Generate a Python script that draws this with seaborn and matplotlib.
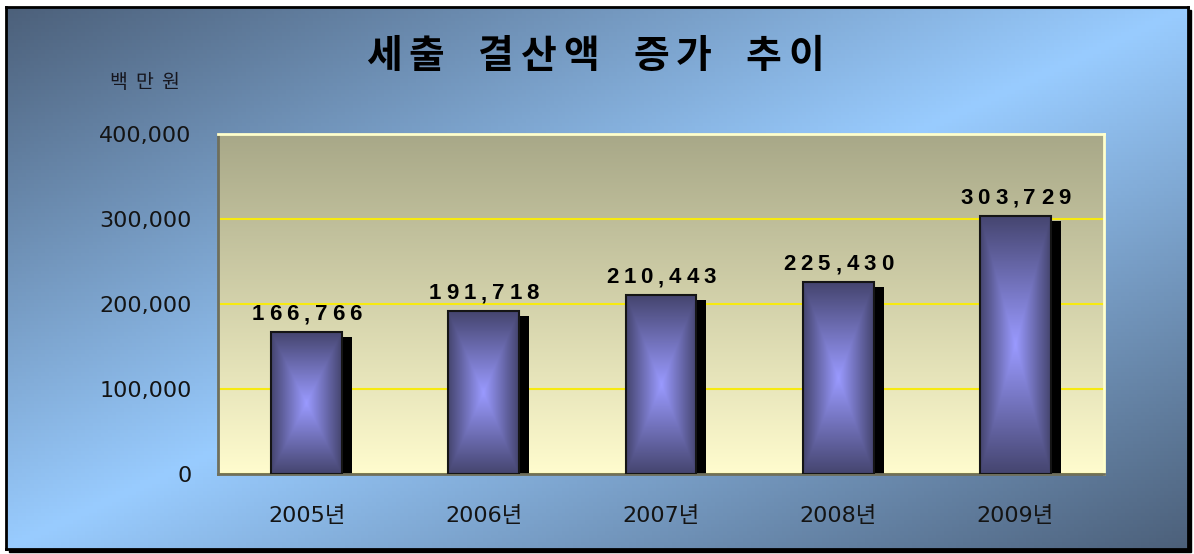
import numpy as np
import pandas as pd
import matplotlib
matplotlib.use("Agg")
import matplotlib.pyplot as plt
import seaborn as sns
from matplotlib import font_manager
from matplotlib.font_manager import FontProperties
from matplotlib.ft2font import FT2Font
from matplotlib.patches import Rectangle
from matplotlib.transforms import offset_copy
from matplotlib.colors import LinearSegmentedColormap

# -----------------------------
# DATA
# -----------------------------
years = ["2005년", "2006년", "2007년", "2008년", "2009년"]
amounts = [166766, 191718, 210443, 225430, 303729]
y_ticks = [0, 100000, 200000, 300000, 400000]
title_text = "세출 결산액 증가 추이"
unit_text = "백만원"

df = pd.DataFrame({"year": years, "amount": amounts})

W, H, DPI = 1194, 554, 100


def advance_pt(char, prop):
    # horizontal advance of one glyph, in points
    font = FT2Font(font_manager.findfont(prop))
    font.set_size(prop.get_size_in_points(), 72)
    g = font.load_char(ord(char))
    return g.linearHoriAdvance / 65536


def spaced_text(ax, xy, s, prop, track_pt, xycoords="data", dy_pt=0,
                space_pt=0, **kw):
    # draws text with extra letter spacing, centred on xy
    advs = [advance_pt(c, prop) + (space_pt if c == " " else 0) for c in s]
    total = sum(advs) + track_pt * (len(s) - 1)
    pos = -total / 2
    for c, a in zip(s, advs):
        if c != " ":
            ax.annotate(c, xy, xycoords=xycoords, xytext=(pos + a / 2, dy_pt),
                        textcoords="offset points", ha="center", va="baseline",
                        fontproperties=prop, annotation_clip=False, **kw)
        pos += a + track_pt


sns.set_theme(style="white")
plt.rcParams["font.family"] = ["DejaVu Sans", "Noto Sans CJK KR"]

fig = plt.figure(figsize=(W / DPI, H / DPI), dpi=DPI, facecolor="white")

# -----------------------------
# BACKGROUND FRAME (diagonal gradient)
# -----------------------------
fx0, fx1 = 6 / W, 1188 / W
fy0, fy1 = 1 - 549 / H, 1 - 7 / H
fig.patches.append(Rectangle((fx0 + 3 / W, fy0 - 3 / H), fx1 - fx0, fy1 - fy0,
                             transform=fig.transFigure, facecolor="black",
                             edgecolor="black", zorder=-3))
bg = fig.add_axes([fx0, fy0, fx1 - fx0, fy1 - fy0], zorder=-2)
gx, gy = np.meshgrid(np.linspace(0, 1, 300), np.linspace(0, 1, 150))
t = (gx + gy) / 2
f = 1 - np.abs(2 * t - 1)
dark = np.array([76, 96, 122]) / 255
light = np.array([153, 204, 255]) / 255
bg_img = dark + (light - dark) * f[..., None]
bg.imshow(bg_img, extent=[0, 1, 0, 1], aspect="auto", origin="upper")
bg.set_xlim(0, 1)
bg.set_ylim(0, 1)
bg.set_xticks([])
bg.set_yticks([])
for sp in bg.spines.values():
    sp.set_color("black")
    sp.set_linewidth(2)

# -----------------------------
# PLOT AREA
# -----------------------------
ax = fig.add_axes([218 / W, 1 - 474 / H, 886 / W, 340 / H])
ax.patch.set_alpha(0)

pa = np.linspace(0, 1, 200)[:, None] * np.ones((1, 2))
top_c = np.array([168, 168, 136]) / 255
bot_c = np.array([255, 252, 206]) / 255
pa_img = top_c + (bot_c - top_c) * pa[..., None]
ax.imshow(pa_img, extent=[0, 1, 0, 1], transform=ax.transAxes,
          aspect="auto", origin="upper", zorder=0)

sns.barplot(data=df, x="year", y="amount", width=0.4, ax=ax,
            color="#7070c0", edgecolor="#151515", linewidth=1.5,
            saturation=1, zorder=3)

# bar gradient (rectangle gradient from the centre)
u, v = np.meshgrid(np.linspace(-1, 1, 120), np.linspace(-1, 1, 240))
bar_grad = 1 - np.maximum(np.abs(u), np.abs(v))
bar_cmap = LinearSegmentedColormap.from_list("bar", ["#45456f", "#9a9aff"])
shadow_tr = offset_copy(ax.transData, fig=fig, x=10, y=-5, units="dots")

for p in list(ax.patches):
    x, w, h = p.get_x(), p.get_width(), p.get_height()
    ax.add_patch(Rectangle((x, 0), w, h, transform=shadow_tr,
                           facecolor="black", edgecolor="none", zorder=2.2))
    im = ax.imshow(bar_grad, cmap=bar_cmap, vmin=0, vmax=1,
                   extent=[x, x + w, 0, h], aspect="auto", zorder=2.5)
    im.set_clip_path(p)
    p.set_facecolor("none")

ax.set_xlim(-0.5, len(years) - 0.5)
ax.set_ylim(0, 400000)

# value labels
label_prop = FontProperties(family="Liberation Sans", weight="bold", size=16)
bars = [p for p in ax.patches if p.get_facecolor()[3] == 0]
for p, val in zip(bars, amounts):
    cx = p.get_x() + p.get_width() / 2
    spaced_text(ax, (cx, p.get_height()), f"{val:,}", label_prop, 3.6,
                dy_pt=8.6, color="black", zorder=5)

# grid & spines
ax.set_axisbelow(True)
ax.yaxis.grid(True, color="#f7ea10", linewidth=1.5)
ax.xaxis.grid(False)
ax.set_yticks(y_ticks)
ax.set_yticklabels([f"{v:,}" for v in y_ticks])
ax.tick_params(axis="y", length=0, pad=19, labelsize=16, labelcolor="#141414")
ax.tick_params(axis="x", length=0, pad=23, labelsize=16, labelcolor="#141414")
ax.set_xlabel("")
ax.set_ylabel("")
for side in ["left", "bottom"]:
    ax.spines[side].set_color("#6f6f5c")
    ax.spines[side].set_linewidth(2)
for side in ["top", "right"]:
    ax.spines[side].set_color("#ffffcc")
    ax.spines[side].set_linewidth(2)

# -----------------------------
# TITLE & UNIT
# -----------------------------
title_prop = FontProperties(family="Noto Sans CJK KR", weight=900, size=28)
spaced_text(bg, (595 / W, 1 - 68 / H), title_text, title_prop, 5.0,
            space_pt=8.0, xycoords="figure fraction", color="black")

unit_prop = FontProperties(family="Noto Sans CJK KR", size=14)
spaced_text(bg, (144 / W, 1 - 88 / H), unit_text, unit_prop, 5.8,
            xycoords="figure fraction", color="#16161e")

fig.savefig("out.png", dpi=DPI)
